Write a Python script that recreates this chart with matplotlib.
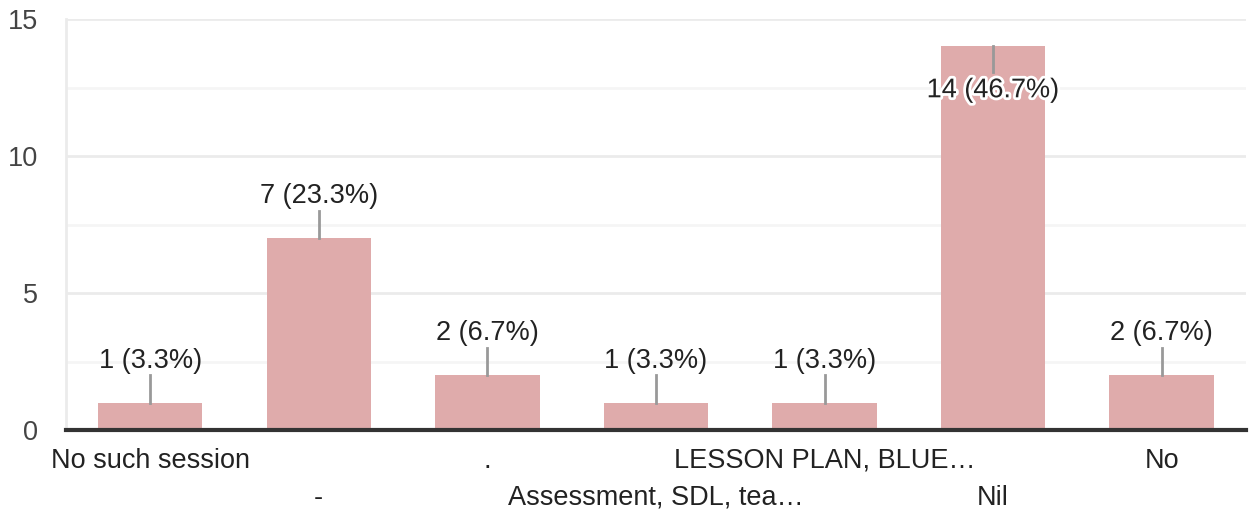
import matplotlib.pyplot as plt
import matplotlib.patheffects as pe

plt.rcParams['font.family'] = ['Liberation Sans', 'DejaVu Sans']

# data
categories = ['No such session', '-', '.', 'Assessment, SDL, tea\u2026',
              'LESSON PLAN, BLUE\u2026', 'Nil', 'No']
counts = [1, 7, 2, 1, 1, 14, 2]
total = 30
yticks = [0, 5, 10, 15]

fig = plt.figure(figsize=(12.56, 5.15), dpi=100)
ax = fig.add_axes([0.0525, 0.165, 0.9395, 0.798])

x = list(range(len(categories)))
ax.bar(x, counts, width=0.62, color='#dfabab', zorder=2)

# gridlines (major + lighter minor)
for v in [2.5, 7.5, 12.5]:
    ax.axhline(v, color='#f5f5f5', lw=2, zorder=0)
for v in yticks[1:]:
    ax.axhline(v, color='#ebebeb', lw=2, zorder=0)

# value labels with leader lines
for i, v in enumerate(counts):
    label = f'{v} ({v / total * 100:.1f}%)'
    if v > 12:
        ax.plot([i, i], [v, v - 0.95], color='#999999', lw=2, zorder=3)
        ax.text(i, v - 1.6, label, ha='center', va='center', fontsize=19.5,
                color='#222222', zorder=4,
                path_effects=[pe.withStroke(linewidth=4, foreground='white')])
    else:
        ax.plot([i, i], [v, v + 1], color='#999999', lw=2, zorder=3)
        ax.text(i, v + 1.05, label, ha='center', va='bottom', fontsize=19.5,
                color='#222222', zorder=4)

ax.set_xlim(-0.5, len(categories) - 0.5)
ax.set_ylim(0, 15)
ax.set_yticks(yticks)
ax.set_yticklabels([str(t) for t in yticks], fontsize=19.5, color='#444444')
ax.tick_params(axis='y', length=0, pad=20)

ax.set_xticks(x)
ax.set_xticklabels([])
ax.tick_params(axis='x', length=0)
for i, c in enumerate(categories):
    yoff = -0.075 if i % 2 == 0 else -0.165
    ax.text(i, yoff, c, transform=ax.get_xaxis_transform(), ha='center',
            va='center', fontsize=19.5, color='#222222')

for s in ['top', 'right']:
    ax.spines[s].set_visible(False)
ax.spines['left'].set_color('#ebebeb')
ax.spines['left'].set_linewidth(2)
ax.spines['bottom'].set_color('#333333')
ax.spines['bottom'].set_linewidth(3)
ax.spines['bottom'].set_zorder(5)

fig.savefig('out.png', dpi=100)
